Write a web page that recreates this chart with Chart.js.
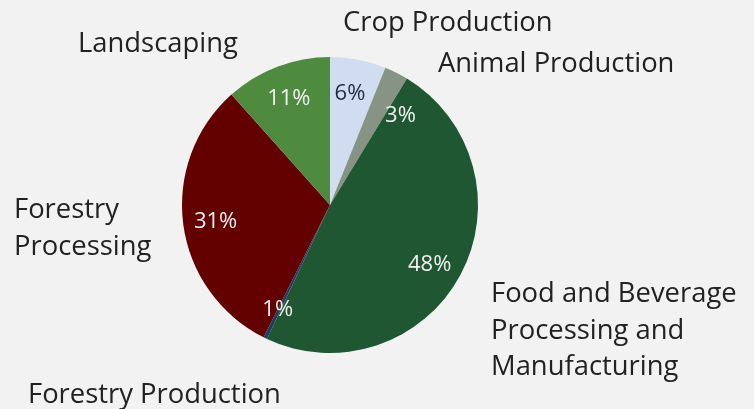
<!DOCTYPE html>
<html>
<head>
<meta charset="utf-8">
<script src="https://cdn.jsdelivr.net/npm/chart.js@4/dist/chart.umd.min.js"></script>
<style>
  html, body { margin: 0; padding: 0; background: #f2f2f2; }
  #wrap { width: 754px; height: 409px; position: relative; }
</style>
</head>
<body>
<div id="wrap"><canvas id="myChartPie"></canvas></div>
<script>
// sectors, clockwise from 12 o'clock
var categories = ['Crop Production', 'Animal Production', 'Food and Beverage Processing and Manufacturing',
                  'Forestry Production', 'Forestry Processing', 'Landscaping'];
var shares = [6.1, 2.6, 48.3, 0.4, 31.0, 11.6];
var shareLabels = ['6%', '3%', '48%', '1%', '31%', '11%'];
var sliceColors = ['#d0dcf0', '#879485', '#1f5733', '#1f3d63', '#630000', '#4f8b3f'];

// label text layout (outside the pie)
var outerLabels = [
  { lines: ['Crop Production'], x: 343, y: 31 },
  { lines: ['Animal Production'], x: 438, y: 72 },
  { lines: ['Food and Beverage', 'Processing and', 'Manufacturing'], x: 491, y: 302 },
  { lines: ['Forestry Production'], x: 28, y: 403 },
  { lines: ['Forestry', 'Processing'], x: 14, y: 218 },
  { lines: ['Landscaping'], x: 78, y: 52 }
];
var pctColors = ['#1f2a44', '#f2f2f2', '#f2f2f2', '#f2f2f2', '#f2f2f2', '#f2f2f2'];
var pctAngleNudge = [-1, 11, 2, 1, 0, 0];

var FONT = '"Open Sans", "Liberation Sans", Arial, sans-serif';

var pieLabels = {
  id: 'pieLabels',
  afterDatasetsDraw: function (chart) {
    var ctx = chart.ctx;
    var arcs = chart.getDatasetMeta(0).data;
    ctx.save();
    ctx.textAlign = 'center';
    ctx.textBaseline = 'middle';
    ctx.font = '22px ' + FONT;
    arcs.forEach(function (arc, i) {
      var mid = (arc.startAngle + arc.endAngle) / 2 + pctAngleNudge[i] * Math.PI / 180;
      var r = arc.outerRadius * 0.78;
      ctx.fillStyle = pctColors[i];
      ctx.fillText(shareLabels[i], arc.x + Math.cos(mid) * r, arc.y + Math.sin(mid) * r + 2);
    });
    ctx.textAlign = 'left';
    ctx.textBaseline = 'alphabetic';
    ctx.font = '27.4px ' + FONT;
    ctx.fillStyle = '#222222';
    outerLabels.forEach(function (l) {
      l.lines.forEach(function (t, j) {
        ctx.fillText(t, l.x, l.y + j * 36.5);
      });
    });
    ctx.restore();
  }
};

new Chart(document.getElementById('myChartPie'), {
  type: 'pie',
  data: {
    labels: categories,
    datasets: [{
      data: shares,
      backgroundColor: sliceColors,
      borderWidth: 0,
      hoverOffset: 0,
      offset: 0
    }]
  },
  options: {
    responsive: true,
    maintainAspectRatio: false,
    animation: false,
    layout: { padding: { left: 182, right: 276, top: 57, bottom: 56 } },
    plugins: {
      legend: { display: false },
      tooltip: { enabled: false }
    }
  },
  plugins: [pieLabels]
});
</script>
</body>
</html>
